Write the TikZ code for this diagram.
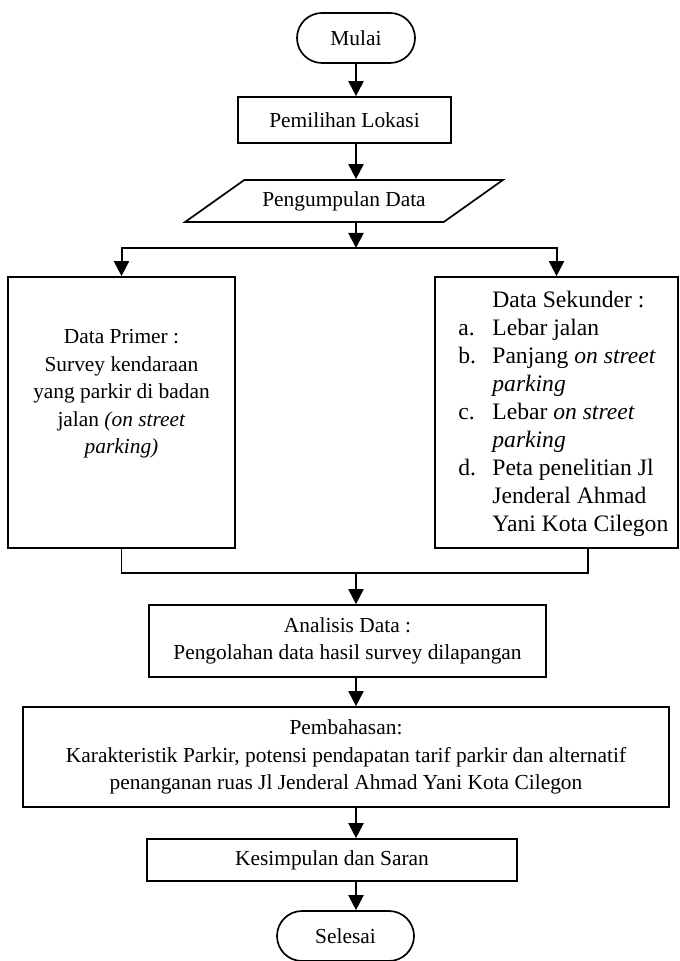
\documentclass[tikz,border=0pt]{standalone}
\usepackage{fontspec}
\setmainfont{Liberation Serif}
\usetikzlibrary{shapes.geometric, arrows.meta, positioning, calc}
\tikzset{
	startstop/.style={rectangle, rounded corners=12.5pt, minimum width=59pt, minimum height=25pt, text centered, align=center, draw=black, line width=0.85pt},
	process/.style  ={rectangle, inner sep=0pt, text centered, align=center, draw=black, line width=0.85pt},
	io/.style       ={trapezium, trapezium left angle=32, trapezium right angle=148, trapezium stretches=true, minimum width=159pt, minimum height=21pt, text centered, align=center, draw=black, line width=0.85pt},
	txt/.style      ={align=center, inner sep=0pt},
	flowarrow/.style={-{Triangle[length=7.5pt, width=7.5pt]}, line width=1pt},
	flowline/.style ={line width=0.85pt},
}

\begin{document}
\begin{tikzpicture}[x=0.5pt, y=-0.5pt, font=\fontsize{10.7}{13.75}\selectfont]
	\useasboundingbox (0,0) rectangle (679,961);
	% main column
	\node[startstop] (mulai) at (356,38) {Mulai};
	\node[process, minimum width=106.5pt, minimum height=23pt] (lokasi) at (344.5,120) {Pemilihan Lokasi};
	\node[io] (kumpul) at (344,201) {Pengumpulan Data};
	% data boxes
	\node[process, minimum width=113.5pt, minimum height=135.5pt] (primer) at (121.5,412.5) {};
	\node[txt] (primerTxt) at (121.5,394) {Data Primer :\\ Survey kendaraan\\ yang parkir di badan\\ jalan \textit{(on street}\\ \textit{parking)}};
	\node[process, minimum width=121.5pt, minimum height=135.5pt] (sekunder) at (556.5,412.5) {};
	\node[txt, anchor=west, align=left, font=\fontsize{11.8}{14}\selectfont] (sekunderTxt) at (458,414) {%
		\begin{tabular}{@{}p{17pt}@{}l@{}}
			   & Data Sekunder :\\
			a. & Lebar jalan\\
			b. & Panjang \textit{on street}\\
			   & \textit{parking}\\
			c. & Lebar \textit{on street}\\
			   & \textit{parking}\\
			d. & Peta penelitian Jl\\
			   & Jenderal Ahmad\\
			   & Yani Kota Cilegon
		\end{tabular}};
	% lower column
	\node[process, minimum width=198.5pt, minimum height=36pt] (analisis) at (347.5,641) {Analisis Data :\\ Pengolahan data hasil survey dilapangan};
	\node[process, minimum width=323pt, minimum height=50pt] (bahas) at (346,757) {Pembahasan:\\ Karakteristik Parkir, potensi pendapatan tarif parkir dan alternatif\\ penanganan ruas Jl Jenderal Ahmad Yani Kota Cilegon};
	\node[process, minimum width=185pt, minimum height=21pt] (simpul) at (332,860) {Kesimpulan dan Saran};
	\node[startstop, minimum width=68.5pt] (selesai) at (345.5,936) {Selesai};
	% connectors
	\coordinate (split) at (mulai.south |- 0,248);
	\coordinate (join) at (mulai.south |- 0,573);
	\coordinate (sekR) at ([xshift=15.75pt]sekunder.south);
	\draw[flowarrow] (mulai.south) -- (mulai.south |- lokasi.north);
	\draw[flowarrow] (lokasi.south -| mulai.south) -- (mulai.south |- kumpul.north);
	\draw[flowarrow] (kumpul.south -| mulai.south) -- (split);
	\draw[flowarrow] (split) -| (primer.north);
	\draw[flowarrow] (split) -| (sekunder.north);
	\draw[flowline] (primer.south) |- (join) -| (sekR);
	\draw[flowarrow] (join) -- (join |- analisis.north);
	\draw[flowarrow] (analisis.south -| join) -- (join |- bahas.north);
	\draw[flowarrow] (bahas.south -| join) -- (join |- simpul.north);
	\draw[flowarrow] (simpul.south -| join) -- (join |- selesai.north);
\end{tikzpicture}
\end{document}
